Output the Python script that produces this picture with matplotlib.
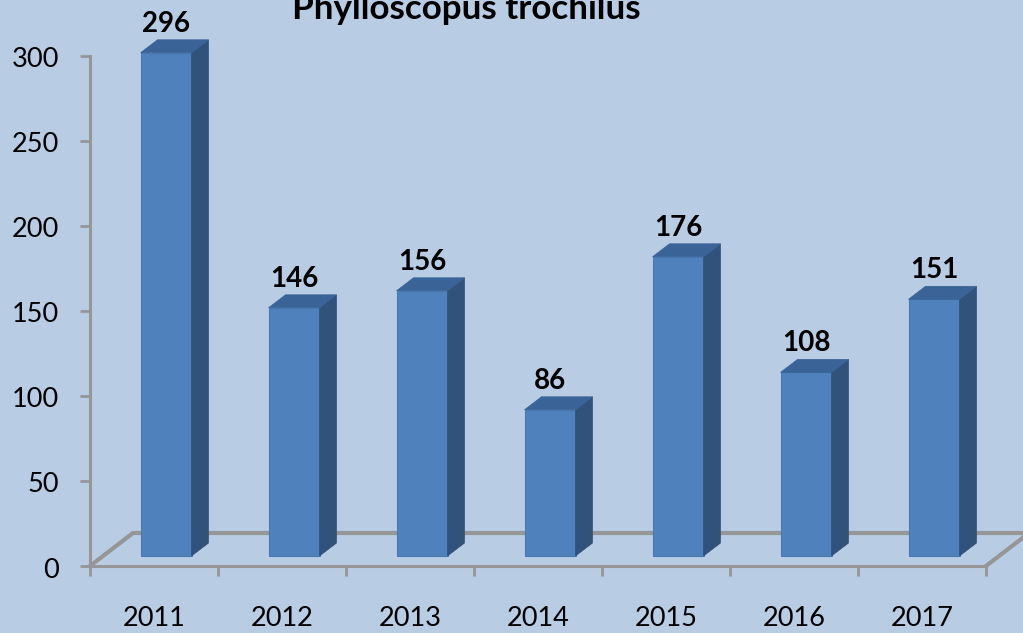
import matplotlib.pyplot as plt
from matplotlib.patches import Polygon
from matplotlib.transforms import ScaledTranslation

years = ['2011', '2012', '2013', '2014', '2015', '2016', '2017']
counts = [296, 146, 156, 86, 176, 108, 151]
y_ticks = [0, 50, 100, 150, 200, 250, 300]

plt.rcParams['font.family'] = ['Lato', 'DejaVu Sans']

bg = '#B8CCE4'
front = '#4F81BD'
side = '#31527B'
top = '#3A6397'
grey = '#969696'

W, H = 1023, 633
fig = plt.figure(figsize=(W / 100, H / 100), dpi=100, facecolor=bg)
# 坐标轴位置(像素): x 90-986, y 56-566
ax = fig.add_axes([90 / W, 1 - 566 / H, 896 / W, 510 / H], facecolor='none')
ax.set_xlim(0, 7)
ax.set_ylim(0, 300)

# 像素到数据单位
px_x = 7 / 896
px_y = 300 / 510

# 底面
floor_dx = 43 * px_x
floor_dy = 33 * px_y
ax.plot([0, floor_dx, 7 + 37 * px_x], [0, floor_dy, floor_dy], color=grey, lw=3, clip_on=False,
        solid_joinstyle='miter', zorder=1)
ax.plot([7, 7 + floor_dx], [0, floor_dy], color=grey, lw=3, clip_on=False, zorder=1)

# 柱子: 正面 + 侧面 + 顶面
base = 10 * px_y
bar_w = 51 * px_x
dx = 17 * px_x
dy = 13 * px_y
for i, v in enumerate(counts):
    l = i + 0.5 - bar_w / 2 + 12 * px_x
    r = l + bar_w
    b = base
    t = base + v
    ax.bar(l, v, width=bar_w, bottom=b, align='edge', color=front, edgecolor='#4A7AB3', lw=0.8,
           clip_on=False, zorder=3)
    ax.add_patch(Polygon([(r, b), (r + dx, b + dy), (r + dx, t + dy), (r, t)], closed=True,
                         facecolor=side, edgecolor=side, lw=0.5, clip_on=False, zorder=3))
    ax.add_patch(Polygon([(l, t), (l + dx, t + dy), (r + dx, t + dy), (r, t)], closed=True,
                         facecolor=top, edgecolor=top, lw=0.5, clip_on=False, zorder=3))
    ax.text(l + bar_w / 2, t + dy + 3 * px_y, str(v), ha='center', va='bottom', fontsize=20,
            fontweight='bold', color='black', zorder=4)

for s in ['top', 'right']:
    ax.spines[s].set_visible(False)
for s in ['left', 'bottom']:
    ax.spines[s].set_color(grey)
    ax.spines[s].set_linewidth(2.2)
    ax.spines[s].set_zorder(2)

ax.set_yticks(y_ticks)
ax.set_xticks(range(8))
ax.set_xticklabels([])
ax.set_xticks([i + 0.5 for i in range(7)], minor=True)
ax.set_xticklabels(years, minor=True)
ax.tick_params(axis='y', length=7.5, width=2, color=grey, pad=15, labelsize=19.5, labelcolor='black')
ax.tick_params(axis='x', which='major', length=7.5, width=2, color=grey)
ax.tick_params(axis='x', which='minor', length=0, pad=29, labelsize=19.5, labelcolor='black')

# y轴标签往下挪一点
shift = ScaledTranslation(0, -1.5 / 100, fig.dpi_scale_trans)
for lab in ax.get_yticklabels():
    lab.set_transform(lab.get_transform() + shift)

# 标题在图片顶部被裁掉一点
fig.text(466 / W, 1 - 19 / H, 'Phylloscopus trochilus', ha='center', va='baseline', fontsize=25.2,
         fontweight='bold', color='black')

fig.savefig('out.png', dpi=100, facecolor=bg)
